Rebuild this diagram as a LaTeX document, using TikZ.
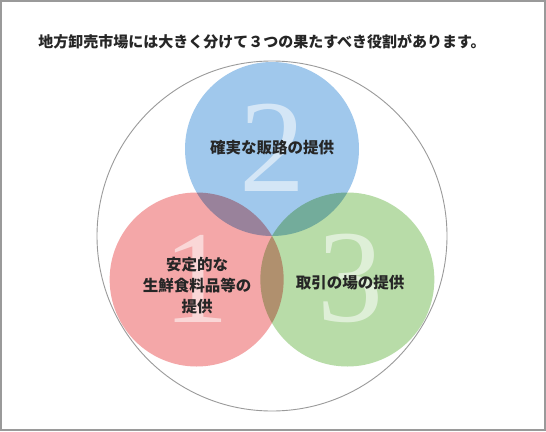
\documentclass[tikz,border=0pt]{standalone}
\usepackage{fontspec}
\usetikzlibrary{calc}
\setmainfont{Liberation Serif}
\newfontfamily\jp{Noto Sans CJK JP}
\definecolor{azzurro}{HTML}{A0C8EC}
\definecolor{rosa}{HTML}{F4A7A8}
\definecolor{verde}{HTML}{B8DCA8}
\definecolor{bordo}{HTML}{9A9A9A}
\begin{document}
\begin{tikzpicture}[
			x=1pt, y=-1pt,
			cornice/.style={line width=1.6pt, bordo},
			anello/.style={line width=0.9pt, bordo},
			disco/.style={blend mode=multiply},
			cifra/.style={font=\fontsize{132}{132}\selectfont, text=white, text opacity=0.55, inner sep=0pt},
			testo/.style={font=\jp\bfseries\fontsize{15.5}{21}\selectfont, align=center, inner sep=0pt, text=black!85},
			]
			
			\def\r{87}
			\def\R{175}
			\coordinate (centro) at (272,236);
			
			%% ── cornice e titolo ─────────────────────────────────
			\fill[white](0,0)rectangle(546,431);
			\draw[cornice](0.8,0.8)rectangle(545.2,430.2);
			\node[font=\jp\bfseries\fontsize{15}{16}\selectfont, text=black!85](titolo)at(262,42)
			{地方卸売市場には大きく分けて３つの果たすべき役割があります。};
			
			%% ── cerchi ────────────────────────────────────────────
			\coordinate (c2) at ($(centro)+(90:-\r)$);
			\coordinate (c1) at ($(centro)+(-30:-\r)$);
			\coordinate (c3) at ($(centro)+(210:-\r)$);
			\begin{scope}[transparency group]
				\fill[azzurro,disco](c2)circle(\r);
				\fill[rosa,disco](c1)circle(\r);
				\fill[verde,disco](c3)circle(\r);
			\end{scope}
			\draw[anello](centro)circle(\R);
			
			%% ── cifre ─────────────────────────────────────────────
			\node[cifra](n2)at($(c2)+(0,-1)$){2};
			\node[cifra](n1)at($(c1)+(0,-1)$){1};
			\node[cifra](n3)at($(c3)+(3,-1)$){3};
			
			%% ── testi ─────────────────────────────────────────────
			\node[testo](t2)at(272,148){確実な販路の提供};
			\node[testo](t1)at(197,286){安定的な\\生鮮食料品等の\\提供};
			\node[testo](t3)at(350,283){取引の場の提供};
			
	\end{tikzpicture}
\end{document}
